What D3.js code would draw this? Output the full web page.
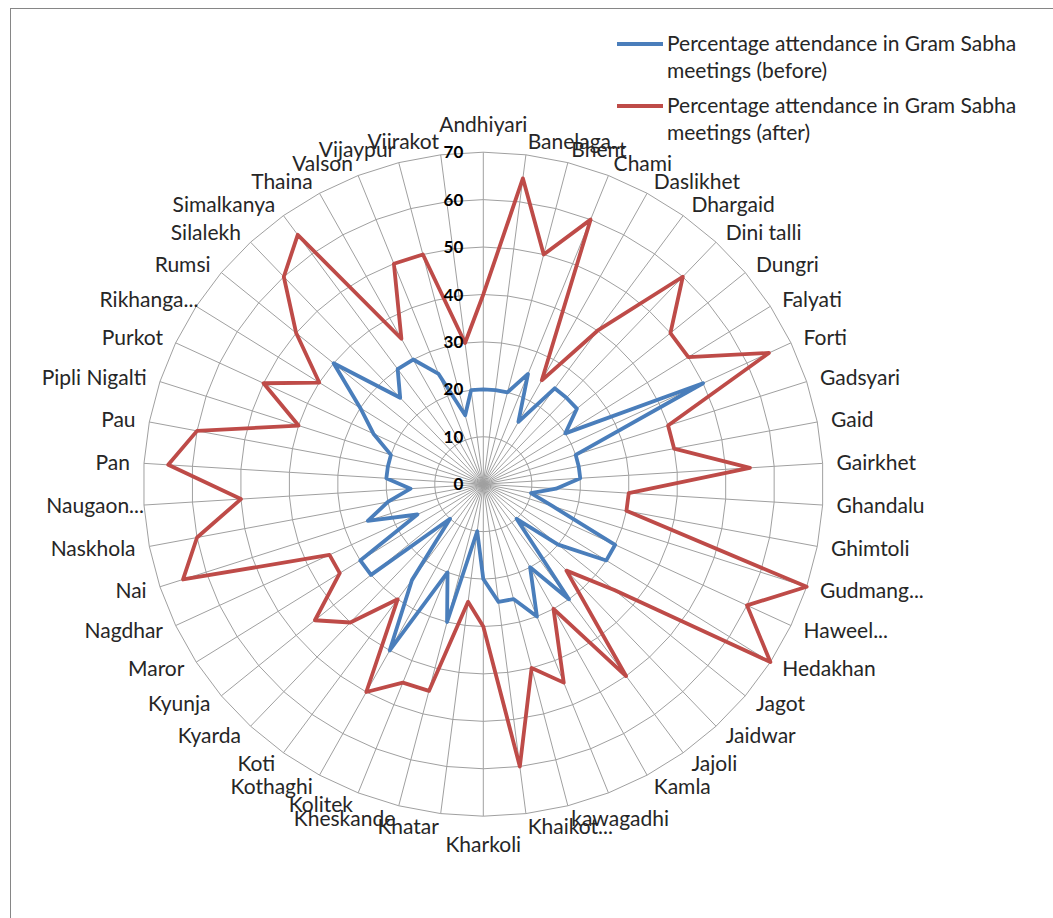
<!DOCTYPE html>
<html><head><meta charset="utf-8">
<script src="https://cdn.jsdelivr.net/npm/d3@7"></script>
<style>body{margin:0;background:#fff} svg{display:block}</style>
</head><body>
<svg id="chart" width="1053" height="918"></svg>
<script>
const categories = ["Andhiyari","Banelaga...","Bhent","Chami","Daslikhet","Dhargaid","Dini talli","Dungri","Falyati","Forti",
  "Gadsyari","Gaid","Gairkhet","Ghandalu","Ghimtoli","Gudmang...","Haweel...","Hedakhan","Jagot","Jaidwar",
  "Jajoli","Kamla","","kawagadhi","Khaikot...","Kharkoli","Khatar","Kheskande","Kolitek","Kothaghi",
  "Koti","Kyarda","Kyunja","Maror","Nagdhar","Nai","Naskhola","Naugaon...","Pan","Pau",
  "Pipli Nigalti","Purkot","Rikhanga...","Rumsi","Silalekh","Simalkanya","Thaina","Valson","Vijaypur","Viirakot"];
const before = [20,20,20,25,15,25,25,25,20,50, 20,20,20,15,10,15,30,30,20,10, 30,20,30,25,25,20,10,30,20,40,
  25,10,30,30,15,25,20,15,20,20, 20,25,30,40,25,30,30,25,15,20];
const after = [40,65,50,60,25,40,60,50,50,65, 40,40,55,30,30,70,60,70,35,25, 50,30,45,40,60,30,25,45,45,50,
  30,40,45,35,35,65,60,50,65,60, 40,50,40,50,60,65,35,50,50,30];
const tickValues = [0,10,20,30,40,50,60,70];
const seriesNames = [["Percentage attendance in Gram Sabha","meetings (before)"],["Percentage attendance in Gram Sabha","meetings (after)"]];
const seriesColors = ["#4A7EBB","#BE4B48"];

const cx = 483.3, cy = 484.2, rx = 340, ry = 332;
const font = "Lato, 'Open Sans', sans-serif";
const svg = d3.select("#chart");
svg.append("rect").attr("x",10.5).attr("y",8.5).attr("width",1100).attr("height",1000)
  .attr("fill","#fff").attr("stroke","#868686");

const n = categories.length;
const angle = d3.scaleLinear().domain([0,n]).range([0,2*Math.PI]);
const rX = d3.scaleLinear().domain([0,70]).range([0,rx]);
const rY = d3.scaleLinear().domain([0,70]).range([0,ry]);
const px = (i,v) => cx + rX(v)*Math.sin(angle(i));
const py = (i,v) => cy - rY(v)*Math.cos(angle(i));
const idx = d3.range(n);

const g = svg.append("g");
// grid rings
tickValues.filter(t=>t>0).forEach(t=>{
  g.append("path").attr("d", d3.line().x(i=>px(i,t)).y(i=>py(i,t)).curve(d3.curveLinearClosed)(idx))
   .attr("fill","none").attr("stroke","#a0a0a0").attr("stroke-width",1);
});
// spokes
g.selectAll("line.spoke").data(idx).join("line").attr("class","spoke")
  .attr("x1",cx).attr("y1",cy).attr("x2",i=>px(i,70)).attr("y2",i=>py(i,70))
  .attr("stroke","#a0a0a0").attr("stroke-width",1);

// series
[before, after].forEach((vals,k)=>{
  g.append("path").attr("d", d3.line().x((v,i)=>px(i,v)).y((v,i)=>py(i,v)).curve(d3.curveLinearClosed)(vals))
   .attr("fill","none").attr("stroke",seriesColors[k]).attr("stroke-width",3.8).attr("stroke-linejoin","round");
});

// tick labels
g.selectAll("text.tick").data(tickValues).join("text").attr("class","tick")
  .attr("x", cx-20).attr("y", t=>cy - rY(t)).attr("dy","0.36em")
  .attr("text-anchor","end").attr("font-family",font).attr("font-weight","bold")
  .attr("font-size",17).attr("fill","#000").text(t=>t);

// category labels
g.selectAll("text.cat").data(idx).join("text").attr("class","cat")
  .each(function(i){
    const s = Math.sin(angle(i)), c = Math.cos(angle(i));
    let x = cx + (rx+14)*s, y = cy - (ry+13)*c, anchor = "middle";
    if (s > 0.01) anchor = "start"; else if (s < -0.01) anchor = "end"; else y -= 15*c;
    if (anchor === "end" && categories[i].endsWith("...")) x += 14;
    d3.select(this).attr("x",x).attr("y",y).attr("dy","0.35em").attr("text-anchor",anchor);
  })
  .attr("font-family",font).attr("font-size",21).attr("fill","#262626")
  .text(i=>categories[i]);

// legend
const legY = [44,106];
seriesNames.forEach((lines,k)=>{
  svg.append("line").attr("x1",617).attr("x2",663).attr("y1",legY[k]).attr("y2",legY[k])
    .attr("stroke",seriesColors[k]).attr("stroke-width",3.8);
  const t = svg.append("text").attr("font-family",font).attr("font-size",21).attr("fill","#262626");
  lines.forEach((ln,j)=>{
    t.append("tspan").attr("x",667).attr("y",legY[k]+27*j).attr("dy","0.35em").text(ln);
  });
});
</script>
</body></html>
